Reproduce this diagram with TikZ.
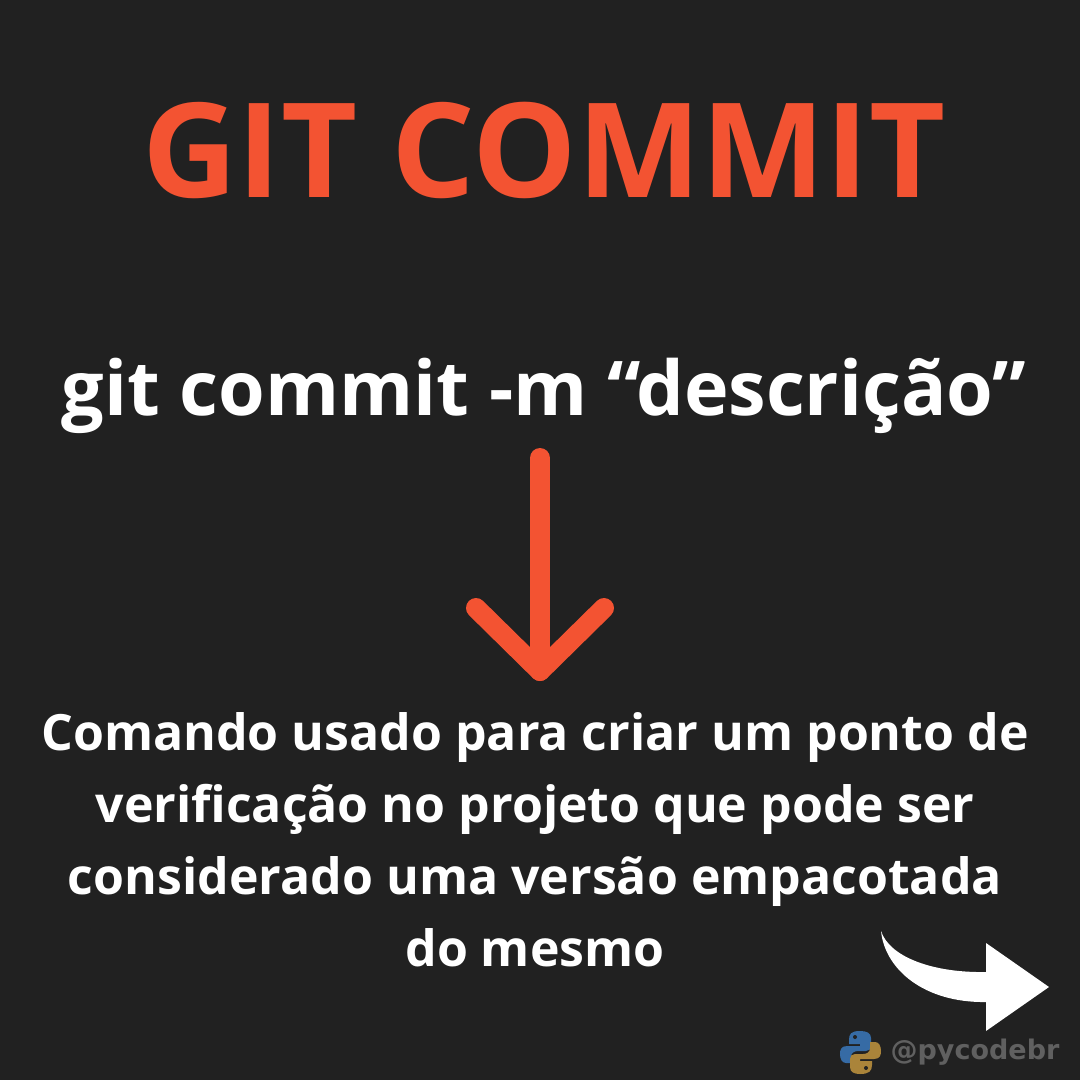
\documentclass[tikz,border=0pt]{standalone}
\usepackage{fontspec}
\setmainfont{Open Sans}
\newfontfamily\markfont{DejaVu Sans}
\usetikzlibrary{positioning,calc}
\definecolor{bgColor}{RGB}{33,33,33}
\definecolor{ptrColor}{RGB}{243,83,50}
\definecolor{markColor}{RGB}{96,96,96}
\definecolor{pyBlue}{RGB}{54,107,165}
\definecolor{pyYellow}{RGB}{170,132,58}
\tikzset{
    title/.style={text=ptrColor, font=\fontsize{131.5}{131.5}\selectfont\bfseries, inner sep=0pt},
    cmd/.style={text=white, font=\fontsize{75.5}{75.5}\selectfont\bfseries, inner sep=0pt},
    desc/.style={text=white, font=\fontsize{50}{72}\selectfont\bfseries, align=center, inner sep=0pt},
    ptr/.style={ptrColor, line width=20pt, line cap=round, line join=round},
    watermark/.style={text=markColor, font=\markfont\fontsize{27}{27}\selectfont\bfseries, inner sep=0pt}
}
\begin{document}
\begin{tikzpicture}[x=1pt, y=-1pt]
    \fill[bgColor] (0,0) rectangle (1080,1080);
    \useasboundingbox (0,0) rectangle (1080,1080);

    % texts
    \node[title] (titulo) at (544,150) {GIT COMMIT};
    \node[cmd] (comando) at (544,396) {git commit -m “descrição”};
    \node[desc] (texto) at (535,840) {Comando usado para criar um ponto de\\verificação no projeto que pode ser\\considerado uma versão empacotada\\do mesmo};
    \node[watermark] (marca) at (975,1052) {@pycodebr};

    % red arrow
    \coordinate (ptrStart) at (540,458);
    \coordinate (ptrEnd) at (540,671);
    \coordinate (ptrLeft) at (476,608);
    \coordinate (ptrRight) at (604,608);
    \draw[ptr] (ptrStart) -- (ptrEnd);
    \draw[ptr] (ptrLeft) -- (ptrEnd) -- (ptrRight);

    % white arrow
    \fill[white] (881,931) .. controls (890,958) and (935,973) .. (986,972)
        -- (986,943) -- (1049,987) -- (986,1031) -- (986,1002)
        .. controls (925,1003) and (885,970) .. (881,931) -- cycle;

    % python logo
    \fill[pyBlue] (860,1031) .. controls (851,1031) and (849,1034) .. (849,1040)
        -- (849,1044) -- (860,1044) -- (860,1046) -- (847,1046)
        .. controls (841,1046) and (840,1050) .. (840,1054)
        .. controls (840,1059) and (842,1063) .. (846,1063) -- (851,1063) -- (851,1057)
        .. controls (851,1053) and (854,1051) .. (858,1051) -- (866,1051)
        .. controls (869,1051) and (871,1049) .. (871,1046) -- (871,1038)
        .. controls (871,1033) and (867,1031) .. (860,1031) -- cycle;
    \fill[pyYellow] (860,1074) .. controls (869,1074) and (872,1071) .. (872,1065)
        -- (872,1061) -- (860,1061) -- (860,1059) -- (874,1059)
        .. controls (880,1059) and (881,1055) .. (881,1051)
        .. controls (881,1046) and (879,1042) .. (875,1042) -- (870,1042) -- (870,1048)
        .. controls (870,1052) and (867,1054) .. (863,1054) -- (855,1054)
        .. controls (852,1054) and (850,1056) .. (850,1059) -- (850,1067)
        .. controls (850,1072) and (854,1074) .. (860,1074) -- cycle;
    \fill[bgColor] (855,1037) circle (2);
    \fill[bgColor] (866,1068) circle (2);
\end{tikzpicture}
\end{document}
